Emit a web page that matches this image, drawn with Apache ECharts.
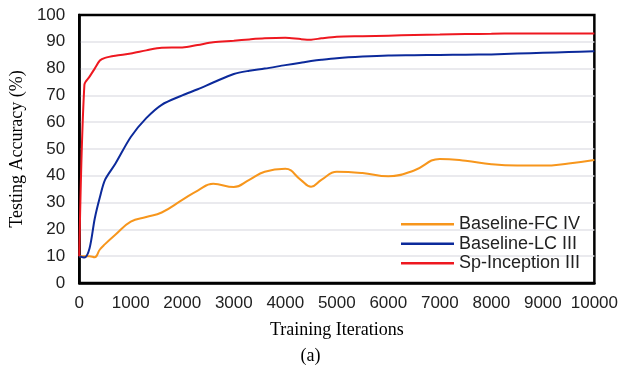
<!DOCTYPE html>
<html>
<head>
<meta charset="utf-8">
<script src="https://cdn.jsdelivr.net/npm/echarts@6/dist/echarts.min.js"></script>
<style>
html,body{margin:0;padding:0;background:#fff;}
#chart{width:621px;height:369px;}
</style>
</head>
<body>
<div id="chart"></div>
<script>
const iterations = [0,100,200,300,400,500,700,1000,1300,1600,2000,2300,2600,3000,3300,3600,4000,4300,4500,4700,5000,5500,6000,6500,7000,7500,8000,8500,9000,9500,10000];
const spInceptionIII = [10,74,77,80,83,84,84.8,85.6,86.8,87.8,87.9,88.8,89.8,90.4,90.9,91.3,91.5,91.0,90.8,91.3,91.9,92.1,92.3,92.5,92.7,92.9,93.0,93.1,93.1,93.1,93.1];
const baselineLCIII = [10,9.5,13,24,32,38.5,44.5,54.5,61.5,66.5,70,72.3,74.8,78,79.2,80,81.3,82.2,82.8,83.3,83.9,84.5,84.9,85,85.1,85.2,85.3,85.6,85.9,86.2,86.5];
const baselineFCIV = [10,10,10,9.6,12.5,14.5,18,22.9,24.6,26.3,31,34.5,37,35.8,38.5,41.5,42.6,38.5,35.9,38.5,41.5,41,39.8,42,46.3,45.6,44.3,43.8,43.8,44.6,45.9];
const seriesNames = ['Baseline-FC IV','Baseline-LC III','Sp-Inception III'];
const xTicks = [0,1000,2000,3000,4000,5000,6000,7000,8000,9000,10000];
const yTicks = [0,10,20,30,40,50,60,70,80,90,100];

const pairs = (ys) => iterations.map((x,i)=>[x, ys[i]]);
const chart = echarts.init(document.getElementById('chart'), null, {renderer:'canvas'});
const sans = 'Liberation Sans, Arial, sans-serif';
const serif = 'Liberation Serif, Times New Roman, serif';
chart.setOption({
  animation:false,
  backgroundColor:'#fff',
  grid:{left:78,right:26,top:15,bottom:86,show:true,borderColor:'#000',borderWidth:2.5},
  xAxis:{
    type:'value',min:xTicks[0],max:xTicks[xTicks.length-1],interval:1000,
    name:'Training Iterations',nameLocation:'middle',nameGap:38,
    nameTextStyle:{fontFamily:serif,fontSize:18,color:'#000'},
    axisLine:{show:true,lineStyle:{color:'#000',width:2.5}},
    axisTick:{show:false},
    axisLabel:{margin:12,fontFamily:sans,fontSize:17,color:'#222',formatter:(v)=>String(v)},
    splitLine:{show:false}
  },
  yAxis:{
    type:'value',min:yTicks[0],max:yTicks[yTicks.length-1],interval:10,
    name:'Testing Accuracy (%)',nameLocation:'middle',nameGap:52,
    nameTextStyle:{fontFamily:serif,fontSize:18,color:'#000'},
    axisLine:{show:true,lineStyle:{color:'#000',width:2.5}},
    axisTick:{show:false},
    axisLabel:{margin:14,fontFamily:sans,fontSize:17,color:'#222'},
    splitLine:{show:true,showMaxLine:false,showMinLine:false,lineStyle:{color:'#e3e3e8',width:1.5}}
  },
  legend:{
    orient:'vertical',left:401,top:214.5,padding:0,itemWidth:53,itemHeight:2.5,itemGap:0,
    icon:'rect',
    textStyle:{fontFamily:sans,fontSize:18,color:'#222',lineHeight:19.5,height:19.5},
    data:seriesNames
  },
  graphic:[{type:'text',left:'center',top:347,style:{text:'(a)',font:'18px '+serif,fill:'#000'},z:100}],
  series:[
    {name:seriesNames[0],type:'line',data:pairs(baselineFCIV),smooth:0.45,symbol:'none',lineStyle:{color:'#F7961C',width:2},itemStyle:{color:'#F7961C'},z:3},
    {name:seriesNames[1],type:'line',data:pairs(baselineLCIII),smooth:0.3,symbol:'none',lineStyle:{color:'#0C2A9B',width:2},itemStyle:{color:'#0C2A9B'},z:4},
    {name:seriesNames[2],type:'line',data:pairs(spInceptionIII),smooth:0.3,symbol:'none',lineStyle:{color:'#EE1820',width:2},itemStyle:{color:'#EE1820'},z:5}
  ]
});
</script>
</body>
</html>
